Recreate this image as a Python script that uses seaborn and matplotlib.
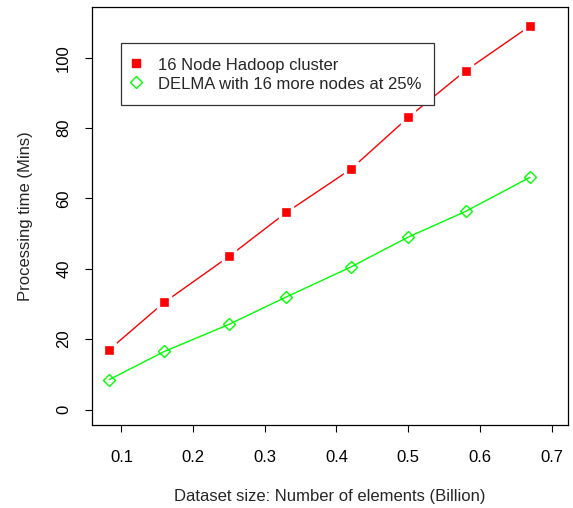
import pandas as pd
import seaborn as sns
import matplotlib.pyplot as plt
from matplotlib.lines import Line2D

dataset_size = [0.083, 0.16, 0.25, 0.33, 0.42, 0.50, 0.58, 0.67]
hadoop_time = [17.0, 30.5, 43.5, 56.0, 68.3, 83.0, 96.3, 109.0]
delma_time = [8.5, 16.5, 24.2, 32.0, 40.5, 49.0, 56.3, 66.0]
hadoop_label = '16 Node Hadoop cluster'
delma_label = 'DELMA with 16 more nodes at 25%'
x_ticks = [0.1, 0.2, 0.3, 0.4, 0.5, 0.6, 0.7]
y_ticks = [0, 20, 40, 60, 80, 100]

red = '#ff0000'
green = '#00ff00'

hadoop_df = pd.DataFrame({'x': dataset_size, 'y': hadoop_time})
delma_df = pd.DataFrame({'x': dataset_size, 'y': delma_time})

sns.set_style('ticks')
plt.rcParams['font.family'] = ['Liberation Sans', 'DejaVu Sans']
plt.rcParams['font.size'] = 12

fig = plt.figure(figsize=(5.73, 5.08), dpi=100)
ax = fig.add_axes([0.1606, 0.1634, 0.8307, 0.8228])

# red series: line with gaps around the points (R type="b")
sns.lineplot(data=hadoop_df, x='x', y='y', ax=ax, color=red, lw=1,
             marker='s', markersize=8.2, markerfacecolor=red,
             markeredgecolor='white', markeredgewidth=2.4)
sns.lineplot(data=delma_df, x='x', y='y', ax=ax, color=green, lw=1,
             marker='D', markersize=6, markerfacecolor='none',
             markeredgecolor=green, markeredgewidth=1)

ax.set_xlim(0.059, 0.723)
ax.set_ylim(-4.4, 114.4)
ax.set_xticks(x_ticks)
ax.set_xticklabels([str(t) for t in x_ticks])
ax.set_yticks(y_ticks)
ax.set_yticklabels([str(t) for t in y_ticks], rotation=90, va='center')
ax.tick_params(axis='both', direction='out', length=5, width=0.8,
               colors='black', labelsize=12)
ax.tick_params(axis='x', pad=13)
ax.tick_params(axis='y', pad=10)
ax.set_xlabel('Dataset size: Number of elements (Billion)', fontsize=12, labelpad=17)
ax.set_ylabel('Processing time (Mins)', fontsize=12, labelpad=17)
for s in ax.spines.values():
    s.set_visible(True)
    s.set_color('black')
    s.set_linewidth(0.9)

handles = [
    Line2D([], [], ls='none', marker='s', markersize=6, color=red),
    Line2D([], [], ls='none', marker='D', markersize=6, markerfacecolor='none',
           markeredgecolor=green),
]
leg = ax.legend(handles, [hadoop_label, delma_label], loc='upper left',
                bbox_to_anchor=(0.061, 0.914), fontsize=12, fancybox=False,
                framealpha=1, edgecolor='#333333', borderpad=0.75,
                handlelength=0.3, handleheight=1.25, handletextpad=1.15,
                labelspacing=0.12, borderaxespad=0)
leg.get_frame().set_linewidth(0.9)

plt.savefig('out.png', dpi=100)
